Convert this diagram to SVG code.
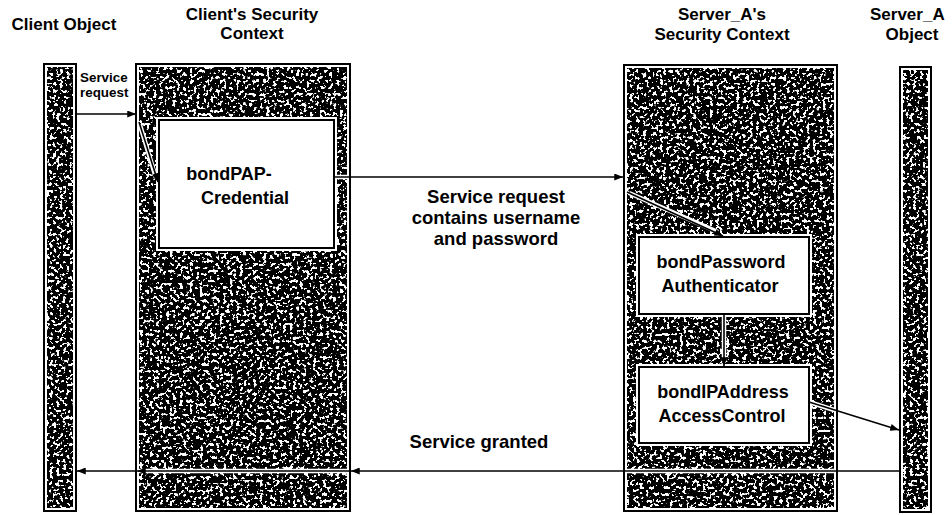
<svg xmlns="http://www.w3.org/2000/svg" width="952" height="515" viewBox="0 0 952 515">
  <style>
    text { font-family: "Liberation Sans", Arial, sans-serif; font-weight: bold; fill: #000; }
    .title { font-size: 17px; text-anchor: middle; }
    .boxtxt { font-size: 18px; text-anchor: middle; }
    .lbl { font-size: 18.5px; text-anchor: middle; }
    .small { font-size: 13.4px; }
    .base { fill: #fff; }
    .grain { filter: url(#grain); }
    .edge { fill: none; stroke: #000; stroke-width: 2; }
    .boxhalo { fill: none; stroke: #fff; stroke-width: 6; }
    .box { fill: #fff; stroke: #000; stroke-width: 2; }
    .halo { fill: none; stroke: #fff; stroke-width: 4.5; stroke-linecap: butt; }
    .wire { fill: none; stroke: #000; stroke-width: 1.6; marker-end: url(#ah); }
  </style>
  <defs>
    <!-- dense black stipple with white worm-like specks -->
    <filter id="grain" x="0" y="0" width="1" height="1" color-interpolation-filters="sRGB">
      <feTurbulence type="fractalNoise" baseFrequency="0.3" numOctaves="2" seed="11" result="noise"/>
      <feColorMatrix in="noise" type="matrix" values="0 0 0 0 1  0 0 0 0 1  0 0 0 0 1  1 0 0 0 0" result="lum"/>
      <feComponentTransfer in="lum" result="specks">
        <feFuncA type="linear" slope="24" intercept="-13.6"/>
      </feComponentTransfer>
      <feFlood flood-color="#000" result="ink"/>
      <feMerge>
        <feMergeNode in="ink"/>
        <feMergeNode in="specks"/>
      </feMerge>
    </filter>
    <marker id="ah" viewBox="0 0 10 8" refX="10" refY="4" markerWidth="9" markerHeight="7" markerUnits="userSpaceOnUse" orient="auto">
      <path d="M0,0 L10,4 L0,8 z" fill="#000"/>
    </marker>
  </defs>

  <rect width="952" height="515" fill="#fff"/>

  <!-- column headings -->
  <g id="headings">
    <text class="title" x="64" y="30">Client Object</text>
    <text class="title" x="252" y="20">Client's Security</text>
    <text class="title" x="252" y="39">Context</text>
    <text class="title" x="722" y="20">Server_A's</text>
    <text class="title" x="722" y="40">Security Context</text>
    <text class="title" x="870" y="20" style="text-anchor:start">Server_A</text>
    <text class="title" x="912" y="40">Object</text>
  </g>

  <g id="client-object">
    <rect class="base" x="44" y="64" width="32" height="447"/>
    <rect class="grain" x="47" y="67" width="26" height="441"/>
    <rect class="edge" x="44" y="64" width="32" height="447"/>
  </g>

  <g id="client-context">
    <rect class="base" x="136" y="64" width="214" height="447"/>
    <rect class="grain" x="139" y="67" width="208" height="441"/>
    <rect class="edge" x="136" y="64" width="214" height="447"/>
  </g>

  <g id="server-context">
    <rect class="base" x="624" y="65" width="213" height="446"/>
    <rect class="grain" x="627" y="68" width="207" height="440"/>
    <rect class="edge" x="624" y="65" width="213" height="446"/>
  </g>

  <g id="server-object">
    <rect class="base" x="900" y="67" width="31" height="445"/>
    <rect class="grain" x="903" y="70" width="25" height="439"/>
    <rect class="edge" x="900" y="67" width="31" height="445"/>
  </g>

  <g id="pap-credential">
    <rect class="boxhalo" x="159" y="120" width="175" height="128"/>
    <rect class="box" x="159" y="120" width="175" height="128"/>
    <text class="boxtxt" x="229" y="180">bondPAP-</text>
    <text class="boxtxt" x="245" y="204">Credential</text>
  </g>

  <g id="password-authenticator">
    <rect class="boxhalo" x="639" y="237" width="170" height="77"/>
    <rect class="box" x="639" y="237" width="170" height="77"/>
    <text class="boxtxt" x="721" y="268">bondPassword</text>
    <text class="boxtxt" x="720" y="292">Authenticator</text>
  </g>

  <g id="ipaddress-access-control">
    <rect class="boxhalo" x="639" y="367" width="170" height="76"/>
    <rect class="box" x="639" y="367" width="170" height="76"/>
    <text class="boxtxt" x="723" y="398">bondIPAddress</text>
    <text class="boxtxt" x="722" y="422">AccessControl</text>
  </g>

  <g id="connectors">
    <!-- white clearance where lines cross the stipple -->
    <line class="halo" x1="140" y1="125" x2="156" y2="178"/>
    <line class="halo" x1="336" y1="177" x2="347" y2="177"/>
    <line class="halo" x1="629" y1="193" x2="718" y2="232"/>
    <line class="halo" x1="724" y1="317" x2="724" y2="362"/>
    <line class="halo" x1="812" y1="403" x2="834" y2="410"/>
    <line class="halo" x1="139" y1="471" x2="347" y2="471"/>
    <line class="halo" x1="627" y1="471" x2="834" y2="471"/>

    <line class="wire" x1="77" y1="114" x2="136" y2="114"/>
    <line class="wire" x1="139" y1="122" x2="158" y2="182"/>
    <line class="wire" x1="334" y1="177" x2="623" y2="177"/>
    <line class="wire" x1="627" y1="192" x2="723" y2="236"/>
    <line class="wire" x1="724" y1="314" x2="724" y2="366"/>
    <line class="wire" x1="809" y1="402" x2="899" y2="430"/>
    <polyline class="wire" points="900,471 351,471 137,471 77,471" style="marker-mid:url(#ah)"/>
  </g>

  <g id="labels">
    <text class="small" x="80" y="82">Service</text>
    <text class="small" x="80" y="97">request</text>
    <text class="lbl" x="496" y="203">Service request</text>
    <text class="lbl" x="496" y="224">contains username</text>
    <text class="lbl" x="496" y="245">and password</text>
    <text class="lbl" x="479" y="448">Service granted</text>
  </g>
</svg>
